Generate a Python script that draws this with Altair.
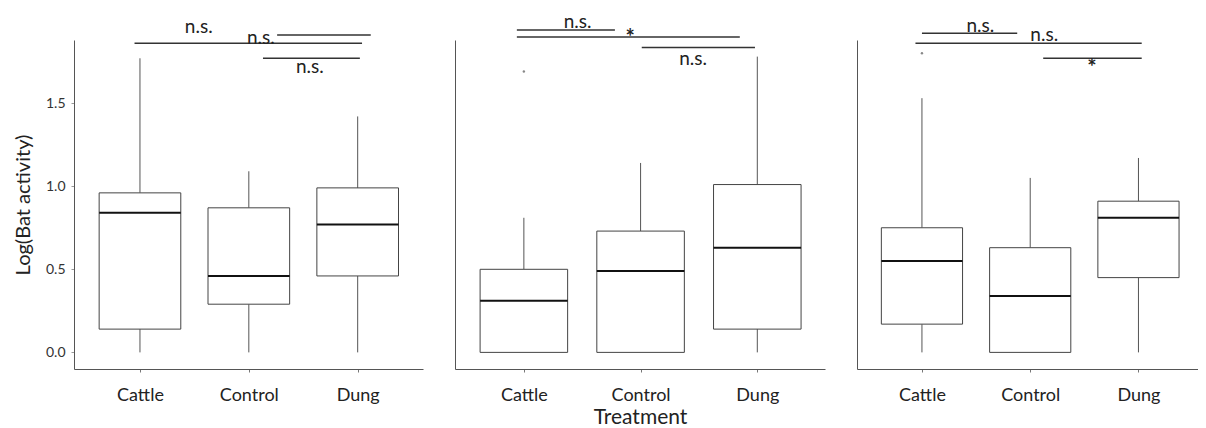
import altair as alt
import pandas as pd

treatments = ["Cattle", "Control", "Dung"]
positions = [1, 2, 3]

# Panel 1 box statistics
p1_min = [0.0, 0.0, 0.0]
p1_q1 = [0.14, 0.29, 0.46]
p1_median = [0.84, 0.46, 0.77]
p1_q3 = [0.96, 0.87, 0.99]
p1_max = [1.77, 1.09, 1.42]

# Panel 2 box statistics
p2_min = [0.0, 0.0, 0.0]
p2_q1 = [0.0, 0.0, 0.14]
p2_median = [0.31, 0.49, 0.63]
p2_q3 = [0.50, 0.73, 1.01]
p2_max = [0.81, 1.14, 1.78]

# Panel 3 box statistics
p3_min = [0.0, 0.0, 0.0]
p3_q1 = [0.17, 0.0, 0.45]
p3_median = [0.55, 0.34, 0.81]
p3_q3 = [0.75, 0.63, 0.91]
p3_max = [1.53, 1.05, 1.17]

# Outliers
p1_out_x, p1_out_y = [], []
p2_out_x, p2_out_y = [1], [1.69]
p3_out_x, p3_out_y = [1], [1.80]

# Significance brackets (start position, end position, level)
p1_br_start = [0.95, 2.26, 2.13]
p1_br_end = [3.04, 3.12, 3.02]
p1_br_y = [1.86, 1.91, 1.77]
p1_lab_x = [1.54, 2.11, 2.56]
p1_lab_y = [1.96, 1.89, 1.72]
p1_lab = ["n.s.", "n.s.", "n.s."]

p2_br_start = [0.94, 0.94, 2.01]
p2_br_end = [1.78, 2.85, 2.98]
p2_br_y = [1.94, 1.898, 1.835]
p2_lab_x = [1.46, 1.91, 2.45]
p2_lab_y = [1.99, 1.89, 1.765]
p2_lab = ["n.s.", "*", "n.s."]

p3_br_start = [1.0, 0.94, 2.12]
p3_br_end = [1.88, 3.03, 3.03]
p3_br_y = [1.92, 1.86, 1.77]
p3_lab_x = [1.54, 2.13, 2.57]
p3_lab_y = [1.965, 1.91, 1.71]
p3_lab = ["n.s.", "n.s.", "*"]

FONT = "Lato"
BOX_HALF = 0.375


def panel(mins, q1s, meds, q3s, maxs, out_x, out_y, bs, be, by, lx, ly, lt,
          width, xdom, first, x_title):
    box = pd.DataFrame({"treatment": treatments, "pos": positions,
                        "low": mins, "q1": q1s, "median": meds,
                        "q3": q3s, "high": maxs})
    br = pd.DataFrame({"start": bs, "end": be, "level": by})
    lab = pd.DataFrame({"x": lx, "y": ly, "t": lt})
    out = pd.DataFrame({"x": out_x, "y": out_y})

    xscale = alt.Scale(domain=xdom, nice=False, zero=False)
    yscale = alt.Scale(domain=[-0.1, 1.88], nice=False, zero=False)
    xaxis = alt.Axis(values=positions,
                     labelExpr="['','Cattle','Control','Dung'][datum.value]",
                     title=x_title, grid=False, tickSize=3,
                     labelPadding=14, labelFontSize=18, labelFont=FONT,
                     labelColor="#222", titleFont=FONT, titleFontSize=21,
                     titleFontWeight="normal", titleColor="#222",
                     titlePadding=2, domainColor="#555", tickColor="#777")
    if first:
        yaxis = alt.Axis(values=[0, 0.5, 1.0, 1.5], format=".1f",
                         title="Log(Bat activity)", grid=False, tickSize=3,
                         labelFontSize=14, labelFont=FONT, labelColor="#333",
                         labelPadding=6, titleFont=FONT, titleFontSize=20,
                         titleFontWeight="normal", titleColor="#222",
                         titlePadding=12, domainColor="#555",
                         tickColor="#999")
    else:
        yaxis = alt.Axis(labels=False, ticks=False, title=None, grid=False,
                         domainColor="#555")

    base = alt.Chart(box).transform_calculate(
        left=f"datum.pos - {BOX_HALF}", right=f"datum.pos + {BOX_HALF}")

    whisk_lo = base.mark_rule(color="#555", strokeWidth=1).encode(
        x=alt.X("pos:Q", scale=xscale, axis=xaxis),
        y=alt.Y("low:Q", scale=yscale, axis=yaxis),
        y2="q1:Q")
    whisk_hi = base.mark_rule(color="#555", strokeWidth=1).encode(
        x="pos:Q", y="q3:Q", y2="high:Q")
    boxes = base.mark_bar(fill="white", stroke="#444",
                          strokeWidth=1).encode(
        x="left:Q", x2="right:Q", y="q1:Q", y2="q3:Q")
    median = base.mark_rule(color="#111", strokeWidth=2).encode(
        x="left:Q", x2="right:Q", y="median:Q")
    brackets = alt.Chart(br).mark_rule(color="#333", strokeWidth=1.5).encode(
        x="start:Q", x2="end:Q", y="level:Q")
    texts = alt.Chart(lab).transform_filter("datum.t != '*'").mark_text(
        font=FONT, fontSize=19, color="#222", baseline="middle").encode(
        x="x:Q", y="y:Q", text="t:N")
    stars = alt.Chart(lab).transform_filter("datum.t == '*'").mark_text(
        font=FONT, fontSize=22, fontWeight="bold", color="#222",
        baseline="middle").encode(x="x:Q", y="y:Q", text="t:N")
    layers = [whisk_lo, whisk_hi, boxes, median, brackets, texts, stars]
    if len(out_x):
        layers.append(alt.Chart(out).mark_point(
            filled=True, size=6, color="#555").encode(x="x:Q", y="y:Q"))
    return alt.layer(*layers).properties(width=width, height=329)


c1 = panel(p1_min, p1_q1, p1_median, p1_q3, p1_max, p1_out_x, p1_out_y,
           p1_br_start, p1_br_end, p1_br_y, p1_lab_x, p1_lab_y, p1_lab,
           349, [0.394, 3.60], True, None)
c2 = panel(p2_min, p2_q1, p2_median, p2_q3, p2_max, p2_out_x, p2_out_y,
           p2_br_start, p2_br_end, p2_br_y, p2_lab_x, p2_lab_y, p2_lab,
           370, [0.41, 3.58], False, "Treatment")
c3 = panel(p3_min, p3_q1, p3_median, p3_q3, p3_max, p3_out_x, p3_out_y,
           p3_br_start, p3_br_end, p3_br_y, p3_lab_x, p3_lab_y, p3_lab,
           341, [0.40, 3.55], False, None)

chart = alt.hconcat(c1, c2, c3, spacing=32).properties(
    padding={"left": 5, "top": 4, "right": 0, "bottom": 0},
    background="white"
).configure_view(stroke=None)

chart.save("out.html", embed_options={"renderer": "svg", "actions": False})
